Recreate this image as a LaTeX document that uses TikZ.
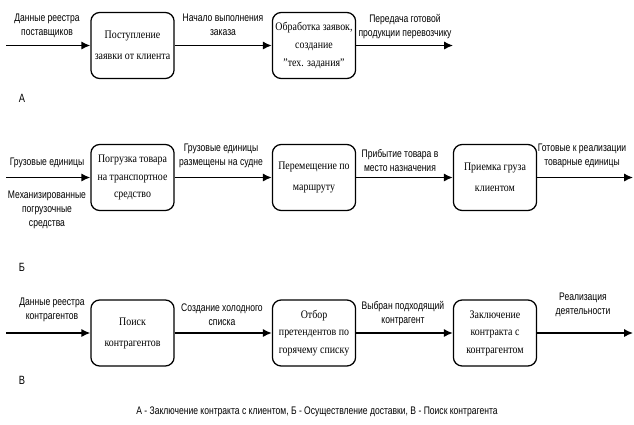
\documentclass[tikz,border=0pt]{standalone}
\usepackage{fontspec}
\setmainfont[FakeStretch=0.86]{Liberation Serif}
\newfontfamily\labelfont[FakeStretch=0.78]{Liberation Sans}
\usetikzlibrary{arrows.meta}
\tikzset{
  flowarrow/.style={-{Latex[length=2.2mm, width=2mm]}, line width=0.9pt},
  procbox/.style={draw, rounded corners=2.2mm, line width=0.9pt, minimum width=2.08cm, minimum height=1.65cm, align=center, inner sep=1pt, font=\fontsize{8.2}{12.5}\selectfont},
  procbox2/.style={procbox, font=\fontsize{8.2}{15}\selectfont},
  flowlabel/.style={align=center, inner sep=0pt, font=\labelfont\fontsize{7.8}{10}\selectfont},
  rowmark/.style={inner sep=0pt, font=\labelfont\fontsize{8.5}{10}\selectfont}
}

\begin{document}
\begin{tikzpicture}[x=0.025cm, y=-0.025cm]
  \useasboundingbox (0,0) rectangle (634,424);
  % row A
  \coordinate (inA) at (6,45.5);
  \node[procbox2] (recv) at (132.5,45.5) {Поступление\\ заявки от клиента};
  \node[procbox] (order) at (314,45.5) {Обработка заявок,\\ создание\\ \symbol{34}тех. задания\symbol{34}};
  \coordinate (outA) at (453,45.5);
  \draw[flowarrow] (inA) -- (recv);
  \draw[flowarrow] (recv) -- (order);
  \draw[flowarrow] (order) -- (outA);
  \node[flowlabel] (la1) at (47,25.5) {Данные реестра\\ поставщиков};
  \node[flowlabel] (la2) at (223,25) {Начало выполнения\\ заказа};
  \node[flowlabel] (la3) at (405,26.5) {Передача готовой\\ продукции перевозчику};
  \node[rowmark] (markA) at (22,98) {А};
  % row B
  \coordinate (inB) at (6,177.5);
  \node[procbox] (load) at (132.5,177.5) {Погрузка товара\\ на транспортное\\ средство};
  \node[procbox2] (move) at (314,177.5) {Перемещение по\\ маршруту};
  \node[procbox2] (accept) at (495,177.5) {Приемка груза\\ клиентом};
  \coordinate (outB) at (633,177.5);
  \draw[flowarrow] (inB) -- (load);
  \draw[flowarrow] (load) -- (move);
  \draw[flowarrow] (move) -- (accept);
  \draw[flowarrow] (accept) -- (outB);
  \node[flowlabel] (lb1) at (47,163) {Грузовые единицы};
  \node[flowlabel] (lb2) at (47,210) {Механизированные\\ погрузочные\\ средства};
  \node[flowlabel] (lb3) at (221,155.5) {Грузовые единицы\\ размещены на судне};
  \node[flowlabel] (lb4) at (400,160.5) {Прибытие товара в\\ место назначения};
  \node[flowlabel] (lb5) at (582,155.5) {Готовые к реализации\\ товарные единицы};
  \node[rowmark] (markB) at (22,267) {Б};
  % row C
  \coordinate (inC) at (6,333);
  \node[procbox2] (search) at (132.5,333) {Поиск\\ контрагентов};
  \node[procbox] (select) at (314,333) {Отбор\\ претендентов по\\ горячему списку};
  \node[procbox] (contract) at (495,333) {Заключение\\ контракта с\\ контрагентом};
  \coordinate (outC) at (633,333);
  \draw[flowarrow] (inC) -- (search);
  \draw[flowarrow] (search) -- (select);
  \draw[flowarrow] (select) -- (contract);
  \draw[flowarrow] (contract) -- (outC);
  \node[flowlabel] (lc1) at (52,309.5) {Данные реестра\\ контрагентов};
  \node[flowlabel] (lc2) at (222,314.5) {Создание холодного\\ списка};
  \node[flowlabel] (lc3) at (403,313.5) {Выбран подходящий\\ контрагент};
  \node[flowlabel] (lc4) at (583,305) {Реализация\\ деятельности};
  \node[rowmark] (markC) at (22,380) {В};
  % caption
  \node[flowlabel] (caption) at (317,412) {А - Заключение контракта с клиентом, Б - Осуществление доставки, В - Поиск контрагента};
\end{tikzpicture}
\end{document}
